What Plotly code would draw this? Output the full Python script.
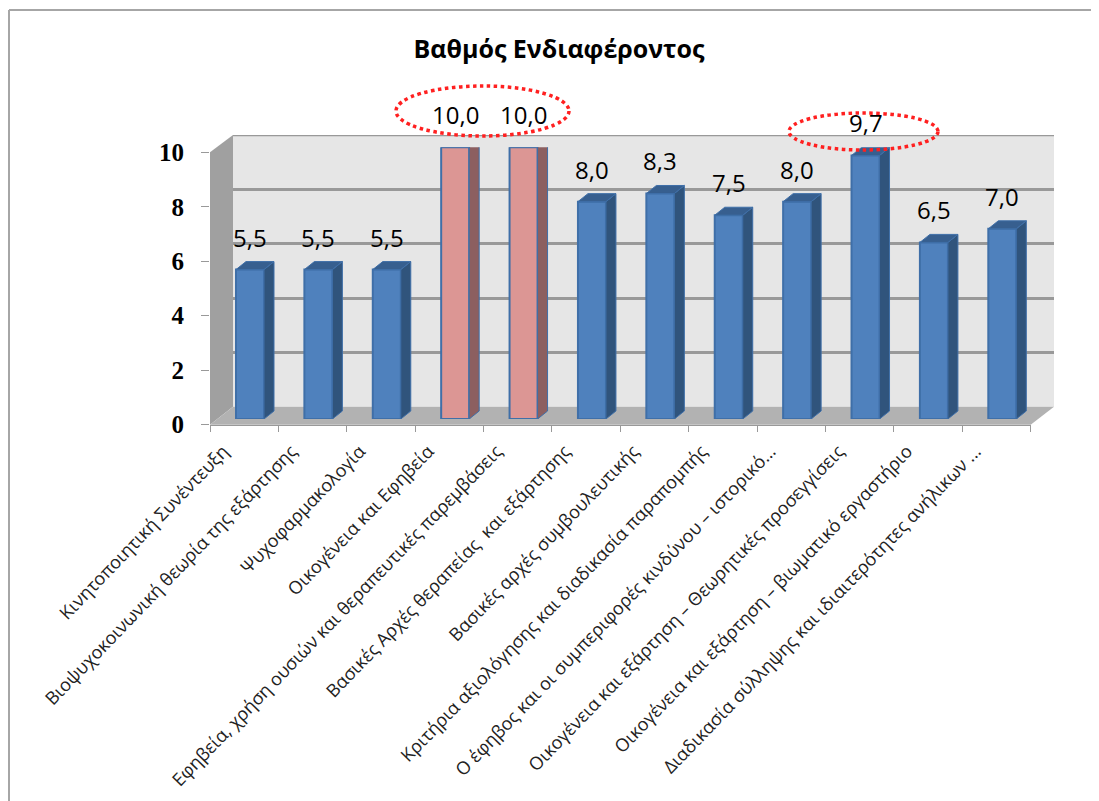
import plotly.graph_objects as go

categories = [
    "Κινητοποιητική Συνέντευξη",
    "Βιοψυχοκοινωνική θεωρία της εξάρτησης",
    "Ψυχοφαρμακολογία",
    "Οικογένεια και Εφηβεία",
    "Εφηβεία, χρήση ουσιών και θεραπευτικές παρεμβάσεις",
    "Βασικές Αρχές θεραπείας  και εξάρτησης",
    "Βασικές αρχές συμβουλευτικής",
    "Κριτήρια αξιολόγησης και διαδικασία παραπομπής",
    "Ο έφηβος και οι συμπεριφορές κινδύνου – ιστορικό...",
    "Οικογένεια και εξάρτηση – Θεωρητικές προσεγγίσεις",
    "Οικογένεια και εξάρτηση – βιωματικό εργαστήριο",
    "Διαδικασία σύλληψης και ιδιαιτερότητες ανήλικων ...",
]
values = [5.5, 5.5, 5.5, 10.0, 10.0, 8.0, 8.3, 7.5, 8.0, 9.7, 6.5, 7.0]
highlighted = [3, 4]
title_text = "Βαθμός Ενδιαφέροντος"
y_ticks = [0, 2, 4, 6, 8, 10]

W, H = 1099, 801
PAGE = 8  # the page's own margin around the figure
def fx(p): return (p - PAGE) / W
def fy(p): return 1 - (p - PAGE) / H

# front axis frame, wall frame, bar frame (pixels)
FRONT = dict(x0=210, x1=1030.7, y0=424.7, y1=152.3)
WALL = dict(x0=233, x1=1054, y0=406.7, y1=135)
BARS = dict(x0=215.8, x1=1036.5, y0=419, y1=147.3)

px_x = (BARS["x1"] - BARS["x0"]) / len(categories)
px_y = (BARS["y0"] - BARS["y1"]) / 10
dx = 10 / px_x
dy = 8 / px_y
half = 14 / px_x

BLUE, BLUE_SIDE, BLUE_TOP = "#4f81bd", "#30547c", "#375f8f"
PINK, PINK_SIDE, PINK_TOP = "#dc9694", "#8c5f60", "#8c5f60"
EDGE = "#3f6fa8"
GRID = "#999999"

fig = go.Figure()

# wall subplot: only gridlines
fig.add_trace(go.Scatter(x=[0], y=[0], mode="markers", marker=dict(opacity=0),
                         xaxis="x", yaxis="y", showlegend=False, hoverinfo="skip"))

# side and top faces
for i, v in enumerate(values):
    hi = i in highlighted
    fig.add_trace(go.Scatter(
        x=[i + half, i + half + dx, i + half + dx, i + half, i + half],
        y=[0, dy, v + dy, v, 0], mode="lines", fill="toself",
        fillcolor=PINK_SIDE if hi else BLUE_SIDE,
        line=dict(color=EDGE, width=1), xaxis="x2", yaxis="y2", cliponaxis=False,
        showlegend=False, hoverinfo="skip"))
    fig.add_trace(go.Scatter(
        x=[i - half, i - half + dx, i + half + dx, i + half, i - half],
        y=[v, v + dy, v + dy, v, v], mode="lines", fill="toself",
        fillcolor=PINK_TOP if hi else BLUE_TOP,
        line=dict(color=EDGE, width=1), xaxis="x2", yaxis="y2", cliponaxis=False,
        showlegend=False, hoverinfo="skip"))

# front faces
fig.add_trace(go.Bar(
    x=list(range(len(values))), y=values, width=2 * half,
    marker=dict(color=[PINK if i in highlighted else BLUE for i in range(len(values))],
                line=dict(color=EDGE, width=2)),
    cliponaxis=False, xaxis="x2", yaxis="y2", showlegend=False))

# front axis, carries ticks and labels
fig.add_trace(go.Scatter(x=categories, y=[0] * len(categories), mode="markers",
                         marker=dict(opacity=0), xaxis="x3", yaxis="y3",
                         showlegend=False, hoverinfo="skip"))

annotations = [
    dict(x=i, y=v, xref="x2", yref="y2", text=f"{v:.1f}".replace(".", ","),
         showarrow=False, yanchor="bottom", xanchor="center", yshift=14,
         font=dict(family="Open Sans", size=24, color="#000000"))
    for i, v in enumerate(values)
]

def poly(points):
    return "M " + " L ".join(f"{fx(a):.5f},{fy(b):.5f}" for a, b in points) + " Z"

shapes = [
    # outer frame (top and left only)
    dict(type="line", xref="paper", yref="paper", x0=fx(9), x1=1, y0=fy(10), y1=fy(10),
         line=dict(color="#a6a6a6", width=2), layer="below"),
    dict(type="line", xref="paper", yref="paper", x0=fx(9), x1=fx(9), y0=fy(10), y1=0,
         line=dict(color="#a6a6a6", width=2), layer="below"),
    # back wall
    dict(type="path", xref="paper", yref="paper",
         path=poly([(WALL["x0"], WALL["y1"]), (WALL["x1"], WALL["y1"]),
                    (WALL["x1"], WALL["y0"]), (WALL["x0"], WALL["y0"])]),
         fillcolor="#e6e6e6", line=dict(width=0), layer="below"),
    # side wall
    dict(type="path", xref="paper", yref="paper",
         path=poly([(FRONT["x0"], FRONT["y1"]), (WALL["x0"], WALL["y1"]),
                    (WALL["x0"], WALL["y0"]), (FRONT["x0"], FRONT["y0"])]),
         fillcolor="#a0a0a0", line=dict(width=0), layer="below"),
    # floor
    dict(type="path", xref="paper", yref="paper",
         path=poly([(FRONT["x0"], FRONT["y0"]), (FRONT["x1"], FRONT["y0"]),
                    (WALL["x1"], WALL["y0"]), (WALL["x0"], WALL["y0"])]),
         fillcolor="#b2b2b2", line=dict(width=0), layer="below"),
    # top edge of the back wall, on the value axis
    dict(type="line", xref="x", yref="y", x0=-0.5, x1=11.5, y0=max(y_ticks), y1=max(y_ticks),
         line=dict(color=GRID, width=2.5), layer="below"),
    # highlight ellipses
    dict(type="circle", xref="paper", yref="paper", x0=fx(396), x1=fx(569), y0=fy(136), y1=fy(86),
         line=dict(color="#ff2020", width=3.5, dash="dot"), layer="above"),
    dict(type="circle", xref="paper", yref="paper", x0=fx(789), x1=fx(938), y0=fy(150), y1=fy(113),
         line=dict(color="#ff2020", width=3.5, dash="dot"), layer="above"),
]

fig.update_layout(
    width=W, height=H, margin=dict(l=0, r=0, t=0, b=0, pad=0), autosize=False,
    paper_bgcolor="#ffffff", plot_bgcolor="rgba(0,0,0,0)",
    showlegend=False,
    title=dict(text=f"<b>{title_text}</b>", x=fx(559), xanchor="center", xref="paper",
               y=fy(49), yanchor="middle", yref="paper", automargin=False,
               font=dict(family="Open Sans", size=25, color="#000000")),
    xaxis=dict(domain=[fx(WALL["x0"]), fx(WALL["x1"])], range=[-0.5, 11.5], visible=False,
               automargin=False),
    yaxis=dict(domain=[fy(WALL["y0"]), fy(WALL["y1"])], range=[0, 10], tickvals=y_ticks,
               showgrid=True, gridcolor=GRID, gridwidth=2.5, showticklabels=False,
               zeroline=False, showline=False, ticks="", automargin=False),
    xaxis2=dict(domain=[fx(BARS["x0"]), fx(BARS["x1"])], range=[-0.5, 11.5], visible=False,
                anchor="y2", automargin=False),
    yaxis2=dict(domain=[fy(BARS["y0"]), fy(BARS["y1"])], range=[0, 10], visible=False,
                anchor="x2", automargin=False),
    xaxis3=dict(domain=[fx(FRONT["x0"]), fx(FRONT["x1"])], type="category",
                categoryorder="array", categoryarray=categories,
                range=[-0.5, 11.5], anchor="y3", tickson="boundaries", tickangle=-46,
                ticks="outside", ticklen=6, tickcolor=GRID, showline=True, linecolor=GRID,
                linewidth=1, showgrid=False, automargin=False,
                ticklabelshift=-21, ticklabelstandoff=8,
                tickfont=dict(family="Open Sans", size=18, color="#222222")),
    yaxis3=dict(domain=[fy(FRONT["y0"]), fy(FRONT["y1"])], range=[0, 10], anchor="x3",
                tickmode="array", tickvals=y_ticks, ticktext=[f"<b>{t}</b>" for t in y_ticks],
                ticks="outside", ticklen=8, tickcolor=GRID, showgrid=False,
                zeroline=False, showline=False, ticklabelstandoff=12, automargin=False,
                tickfont=dict(family="Liberation Serif", size=25, color="#000000")),
    annotations=annotations, shapes=shapes,
)

fig.write_html("out.html")
